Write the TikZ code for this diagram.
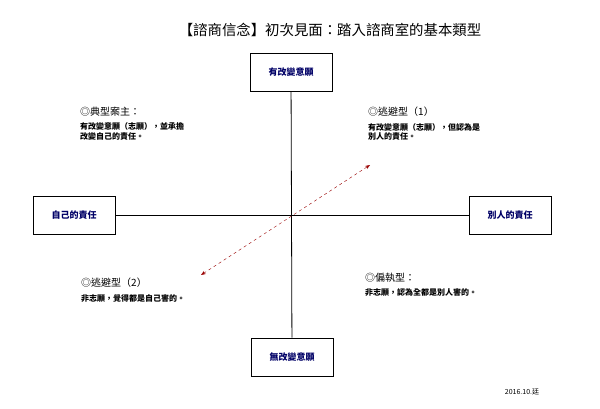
\documentclass[tikz,border=0pt]{standalone}
\usepackage{fontspec}
\setmainfont{Noto Sans CJK TC}
\usetikzlibrary{arrows.meta, positioning}

\begin{document}
\begin{tikzpicture}[
    x=1pt, y=-1pt,
    every node/.style={font=\small},
    pole/.style={rectangle, draw, thick, minimum width=82pt, minimum height=38pt, font=\bfseries\small, text=blue!40!black},
    head/.style={anchor=north west, font=\normalsize, inner sep=0pt},
    body/.style={anchor=north west, font=\footnotesize\bfseries, align=left, inner sep=0pt},
    axis/.style={thick},
    arrow/.style={{Stealth}-{Stealth}, dashed, thin, red!60!black}
]
    \useasboundingbox (0,0) rectangle (600,409);
    \node[font=\Large] (title) at (330,30) {【諮商信念】初次見面：踏入諮商室的基本類型};
    \node[pole] (want) at (291,72) {有改變意願};
    \node[pole] (nowant) at (292,357) {無改變意願};
    \node[pole] (self) at (74,215) {自己的責任};
    \node[pole] (other) at (510,215) {別人的責任};
    \coordinate (mid) at (291,215);

    \draw[axis] (want) -- (nowant);
    \draw[axis] (self) -- (other);

    \coordinate (upper) at (370,165);
    \coordinate (lower) at (201,275);
    \draw[arrow] (lower) -- (upper);

    \node[head] (q1) at (80,107) {◎典型案主：};
    \node[body, below=6pt of q1.south west, anchor=north west] (t1) {有改變意願（志願），並承擔\\改變自己的責任。};
    \node[head] (q2) at (368,107) {◎逃避型（1）};
    \node[body, below=6pt of q2.south west, anchor=north west] (t2) {有改變意願（志願），但認為是\\別人的責任。};
    \node[head] (q3) at (81,278) {◎逃避型（2）};
    \node[body, below=6pt of q3.south west, anchor=north west] (t3) {非志願，覺得都是自己害的。};
    \node[head] (q4) at (365,273) {◎偏執型：};
    \node[body, below=6pt of q4.south west, anchor=north west] (t4) {非志願，認為全都是別人害的。};

    \node[font=\scriptsize] (date) at (522,392) {2016.10.廷};
\end{tikzpicture}
\end{document}
